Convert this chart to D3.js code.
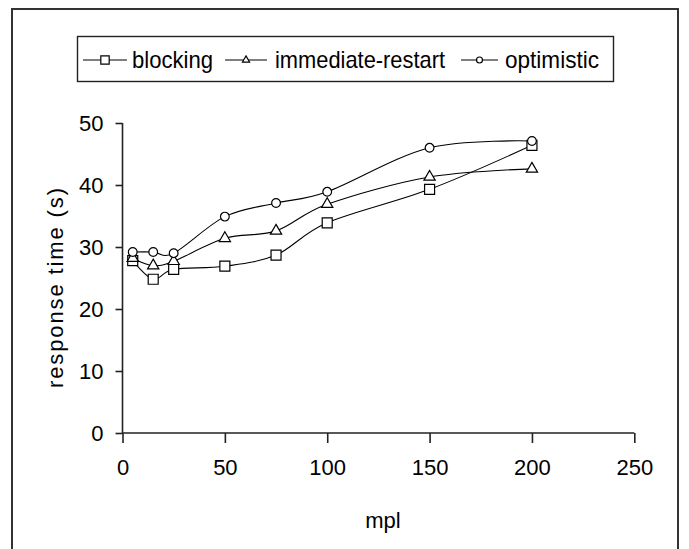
<!DOCTYPE html>
<html>
<head>
<meta charset="utf-8">
<script src="https://cdn.jsdelivr.net/npm/d3@7"></script>
<style>
  body { margin: 0; background: #fff; }
  text { font-family: "Liberation Sans", Arial, sans-serif; fill: #000; }
</style>
</head>
<body>
<script>
const mpl = [5, 15, 25, 50, 75, 100, 150, 200];
const blocking = [27.8, 24.8, 26.4, 26.9, 28.7, 33.9, 39.3, 46.4];
const immediateRestart = [28.2, 27.0, 27.7, 31.4, 32.6, 36.9, 41.3, 42.6];
const optimistic = [29.2, 29.2, 29.0, 34.9, 37.1, 38.9, 46.0, 47.1];
const seriesNames = ["blocking", "immediate-restart", "optimistic"];
const xTicks = [0, 50, 100, 150, 200, 250];
const yTicks = [0, 10, 20, 30, 40, 50];

const width = 689, height = 549;
const svg = d3.select("body").append("svg")
    .attr("width", width)
    .attr("height", height);

// outer frame
svg.append("rect")
    .attr("x", 12).attr("y", 9)
    .attr("width", 666).attr("height", 560)
    .attr("fill", "none")
    .attr("stroke", "#333")
    .attr("stroke-width", 2);

const x = d3.scaleLinear().domain([0, 250]).range([122.5, 634.3]);
const y = d3.scaleLinear().domain([0, 50]).range([433, 123]);

// axes
const xAxis = svg.append("g")
    .attr("transform", `translate(0,${y(0)})`)
    .call(d3.axisBottom(x).tickValues(xTicks).tickSize(10).tickPadding(16));
const yAxis = svg.append("g")
    .attr("transform", `translate(${x(0)},0)`)
    .call(d3.axisLeft(y).tickValues(yTicks).tickSize(7).tickPadding(12));

[xAxis, yAxis].forEach(a => {
  a.select(".domain").attr("stroke", "#222").attr("stroke-width", 1.6);
  a.selectAll(".tick line").attr("stroke", "#222").attr("stroke-width", 1.6);
  a.selectAll(".tick text")
      .attr("font-size", 22)
      .attr("font-family", "Liberation Sans, Arial, sans-serif")
      .attr("fill", "#000");
});
yAxis.selectAll(".tick text").attr("dy", "0.36em");
xAxis.select(".domain").attr("d", `M${x(0)},0H${x(250)}`);
yAxis.select(".domain").attr("d", `M0,${y(0)}V${y(50)}`);

// axis titles
svg.append("text")
    .attr("x", 383).attr("y", 528)
    .attr("text-anchor", "middle")
    .attr("font-size", 22)
    .text("mpl");

svg.append("text")
    .attr("transform", `translate(63,${(y(0) + y(50)) / 2 + 10}) rotate(-90)`)
    .attr("text-anchor", "middle")
    .attr("font-size", 22)
    .attr("textLength", 200)
    .attr("lengthAdjust", "spacing")
    .text("response time (s)");

// markers
const symbolFor = {
  "blocking": d3.symbolSquare,
  "immediate-restart": d3.symbolTriangle,
  "optimistic": d3.symbolCircle
};
const plotSize = { "blocking": 100, "immediate-restart": 55, "optimistic": 60 };
const legendSize = { "blocking": 70, "immediate-restart": 22, "optimistic": 28 };

const series = [blocking, immediateRestart, optimistic].map((vals, i) => ({
  name: seriesNames[i],
  points: vals.map((v, j) => ({ x: mpl[j], y: v }))
}));

const line = d3.line()
    .x(d => x(d.x))
    .y(d => y(d.y))
    .curve(d3.curveCatmullRom.alpha(0));

const g = svg.append("g");
g.selectAll("path.line")
  .data(series)
  .join("path")
    .attr("class", "line")
    .attr("fill", "none")
    .attr("stroke", "#000")
    .attr("stroke-width", 1.1)
    .attr("d", d => line(d.points));

series.forEach(s => {
  g.selectAll(null)
    .data(s.points)
    .join("path")
      .attr("transform", d => `translate(${x(d.x)},${y(d.y)})`)
      .attr("d", d3.symbol(symbolFor[s.name], plotSize[s.name]))
      .attr("fill", "#fff")
      .attr("stroke", "#000")
      .attr("stroke-width", 1.2);
});

// legend
svg.append("rect")
    .attr("x", 77.5).attr("y", 36.5)
    .attr("width", 536).attr("height", 45)
    .attr("fill", "#fff")
    .attr("stroke", "#222")
    .attr("stroke-width", 1.4);

const legendItems = [
  { name: "blocking", x0: 83, x1: 127, tx: 132, tw: 81 },
  { name: "immediate-restart", x0: 225, x1: 267, tx: 275, tw: 170 },
  { name: "optimistic", x0: 461, x1: 498, tx: 505, tw: 94 }
];
const ly = 60;
const leg = svg.append("g").selectAll("g")
  .data(legendItems)
  .join("g");
leg.append("line")
    .attr("x1", d => d.x0).attr("x2", d => d.x1)
    .attr("y1", ly).attr("y2", ly)
    .attr("stroke", "#000").attr("stroke-width", 1.2);
leg.append("path")
    .attr("transform", d => `translate(${(d.x0 + d.x1) / 2},${ly})`)
    .attr("d", d => d3.symbol(symbolFor[d.name], legendSize[d.name])())
    .attr("fill", "#fff")
    .attr("stroke", "#000")
    .attr("stroke-width", 1.2);
leg.append("text")
    .attr("x", d => d.tx)
    .attr("y", ly + 8)
    .attr("font-size", 24)
    .attr("textLength", d => d.tw)
    .attr("lengthAdjust", "spacingAndGlyphs")
    .text(d => d.name);
</script>
</body>
</html>
